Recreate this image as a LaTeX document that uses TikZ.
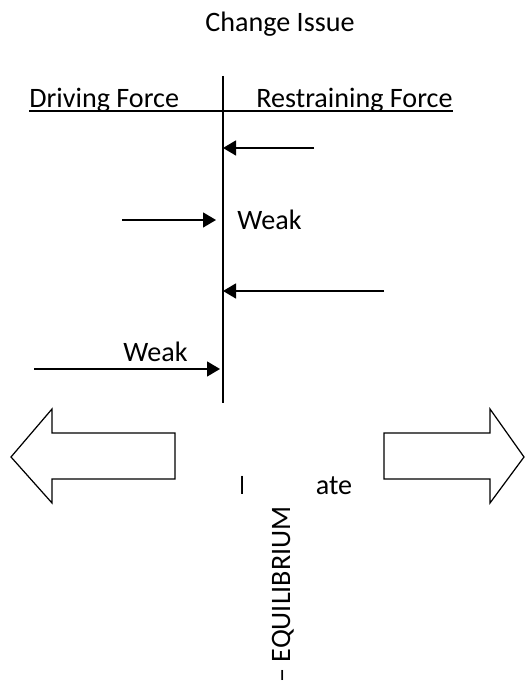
\documentclass[tikz,border=0pt]{standalone}
\usepackage{fontspec}
\setmainfont{Carlito}
\usetikzlibrary{arrows.meta}
\tikzset{force/.style={-{Triangle[length=2.6mm,width=3mm]},line width=0.8pt}}
\begin{document}
\begin{tikzpicture}[font=\fontsize{16}{19}\selectfont]
    \useasboundingbox (0,0) rectangle (10.5,13.78);
    \node [anchor=base] (issue) at (5.6,13.14) {Change Issue};
    \node [anchor=base west,inner sep=0] (drive) at (0.58,11.62) {Driving Force};
    \node [anchor=base west,inner sep=0] (restrain) at (5.12,11.62) {Restraining Force};
    \draw[line width=0.8pt]([yshift=-0.06cm]drive.base west)--([yshift=-0.06cm]restrain.base east);
    \coordinate (top) at (4.46,12.26);
    \coordinate (bot) at (4.46,5.72);
    \draw[line width=1pt](top)--(bot);
    % forces
    \coordinate (r1) at (6.28,10.82);
    \coordinate (d1) at (2.44,9.38);
    \coordinate (r2) at (7.68,7.96);
    \coordinate (d2) at (0.68,6.40);
    \draw[force](r1)--(r1 -| top);
    \draw[force,shorten >=0.14cm](d1)--(d1 -| top);
    \draw[force](r2)--(r2 -| top);
    \draw[force,shorten >=0.06cm](d2)--(d2 -| top);
    \node [anchor=base west,inner sep=0] (weak1) at (4.74,9.18) {Weak};
    \node [anchor=base west,inner sep=0] (weak2) at (2.46,6.54) {Weak};
    % big arrows
    \draw[line width=0.7pt](3.5,5.12)--(1.04,5.12)--(1.04,5.6)--(0.22,4.64)--(1.04,3.72)--(1.04,4.2)--(3.5,4.2)--cycle;
    \draw[line width=0.7pt](7.68,5.12)--(9.8,5.12)--(9.8,5.6)--(10.48,4.64)--(9.8,3.72)--(9.8,4.2)--(7.68,4.2)--cycle;
    \node [anchor=base] (mod) at (5.91,3.88) {Moderate};
    \fill[white](4.86,4.48) rectangle (6.31,0);
    \node [rotate=90,anchor=base west,inner sep=0] (equi) at (5.8,0.12) {– EQUILIBRIUM};
\end{tikzpicture}
\end{document}
